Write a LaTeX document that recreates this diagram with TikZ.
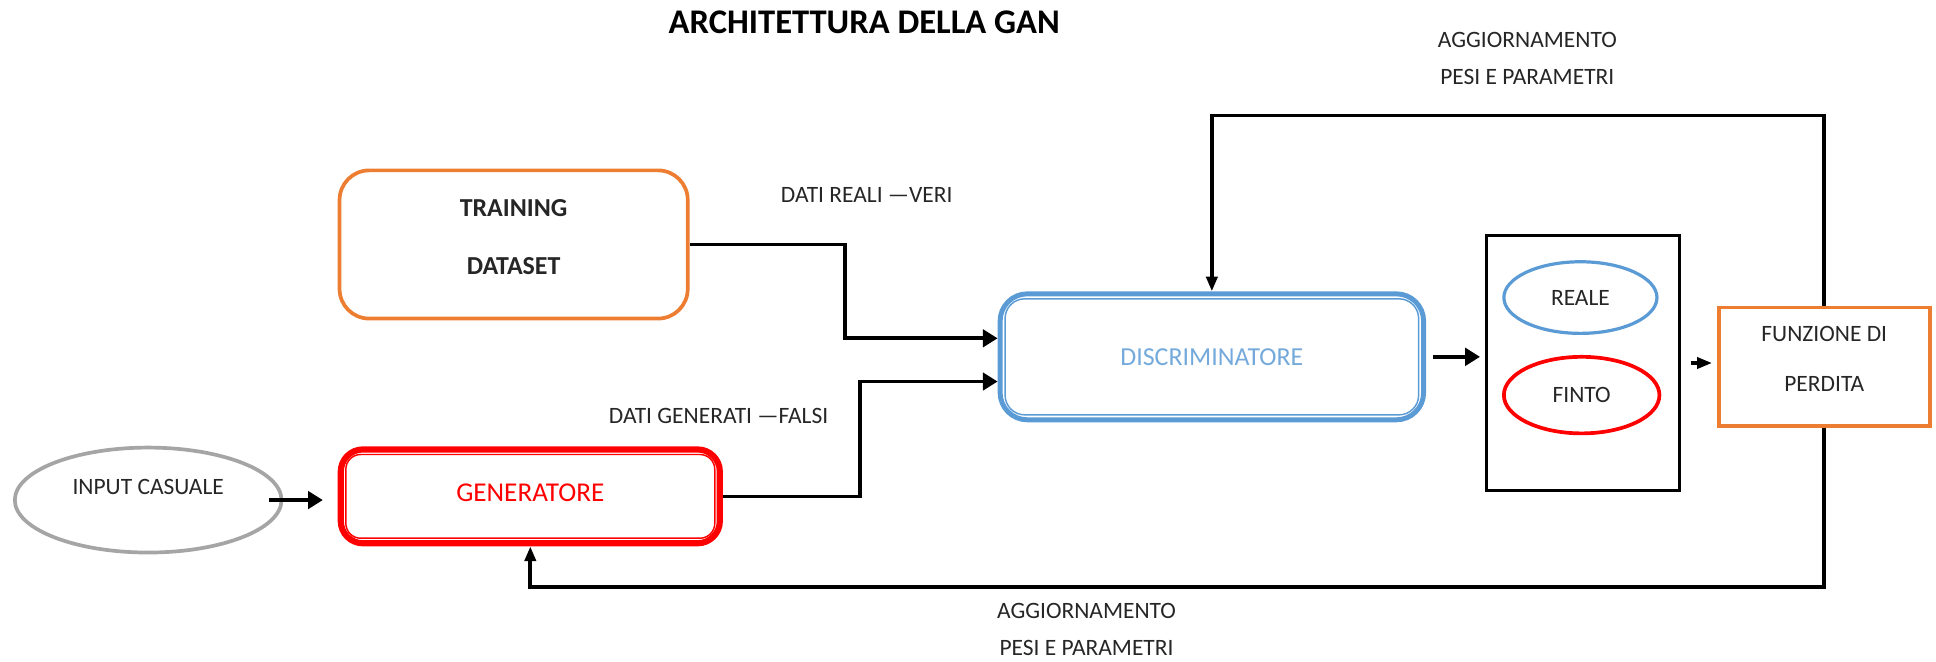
\documentclass[tikz,border=0pt]{standalone}
\usepackage{fontspec}
\setmainfont{Carlito}
\usetikzlibrary{arrows.meta,shapes.geometric}
\definecolor{ganorange}{HTML}{ED7D31}
\definecolor{ganblue}{HTML}{5B9BD5}
\definecolor{gangray}{HTML}{A5A5A5}
\definecolor{gantext}{HTML}{262626}

\begin{document}
\begin{tikzpicture}[x=0.5pt,y=-0.5pt,
    lbl/.style={font=\fontsize{9.5}{15}\selectfont, text=gantext, align=center},
    arr/.style={line width=1.5pt, -{Triangle[length=6pt,width=7pt]}},
    thinarr/.style={line width=1.5pt, -{Triangle[length=6pt,width=4.5pt]}},
  ]
  \useasboundingbox (0,0) rectangle (1568,536);
  \node[font=\bfseries\fontsize{14}{16}\selectfont] (title) at (700,18) {ARCHITETTURA DELLA GAN}; % title

  % blocks
  \node[draw=ganorange, line width=1.5pt, rounded corners=12pt, minimum width=141pt, minimum height=60pt,
        label={[align=center, font=\bfseries\fontsize{10.5}{23.5}\selectfont, text=gantext, yshift=3pt]center:TRAINING\\DATASET}] (train) at (416,198) {};
  \node[draw=ganblue, line width=2pt, rounded corners=11pt, minimum width=171.5pt, minimum height=51pt,
        font=\fontsize{10.5}{12}\selectfont, text=ganblue!85] (disc) at (981.5,289) {DISCRIMINATORE};
  \draw[ganblue, line width=0.6pt, rounded corners=8pt] ([shift={(3pt,-3pt)}]disc.north west) rectangle ([shift={(-3pt,3pt)}]disc.south east); % inner border
  \node[draw=red, line width=2.5pt, rounded corners=9pt, minimum width=153.5pt, minimum height=38pt,
        font=\fontsize{11}{12}\selectfont, text=red] (gen) at (429.5,402) {\raisebox{3pt}{GENERATORE}};
  \draw[red, line width=0.6pt, rounded corners=6pt] ([shift={(3.3pt,-3.3pt)}]gen.north west) rectangle ([shift={(-3.3pt,3.3pt)}]gen.south east); % inner border
  \node[draw=gangray, line width=1.5pt, ellipse, minimum width=108pt, minimum height=42.5pt,
        label={[lbl, yshift=5.5pt]center:INPUT CASUALE}] (rand) at (120,405) {};
  \node[draw, line width=1.3pt, minimum width=78pt, minimum height=103pt] (out) at (1282,294) {};
  \node[draw=ganblue, line width=1.3pt, ellipse, minimum width=62pt, minimum height=29pt, lbl] (real) at (1280,241) {REALE};
  \node[draw=red, line width=1.5pt, ellipse, minimum width=63pt, minimum height=31pt, lbl] (fake) at (1281,320) {FINTO};
  \node[draw=ganorange, line width=1.5pt, minimum width=85.5pt, minimum height=48pt,
        label={[lbl, font=\fontsize{9.5}{20.5}\selectfont, yshift=3.2pt]center:FUNZIONE DI\\PERDITA}] (loss) at (1477.5,297) {};

  % data flow
  \draw[arr] (train.east) -- ++(126,0) |- ([yshift=7.5pt]disc.west);
  \node[lbl] (realtxt) at (702,158) {DATI REALI —VERI};
  \draw[arr] (gen.east) -- ++(111,0) |- ([yshift=-10pt]disc.west);
  \node[lbl] (faketxt) at (582,337) {DATI GENERATI —FALSI};
  \draw[arr, shorten <=-6pt, shorten >=6pt] (rand.east) -- (rand.east -| gen.west); % noise in
  \draw[arr, shorten <=3pt, shorten >=2pt] (disc.east) -- (disc.east -| out.west); % to output
  \draw[thinarr, line width=1.3pt, shorten <=4pt, shorten >=2pt] (out.east) -- (out.east -| loss.west); % to loss

  % feedback
  \draw[thinarr] (loss.north) -- ++(0,-154) -| (disc.north);
  \node[lbl] (updtop) at (1237,47) {AGGIORNAMENTO\\PESI E PARAMETRI};
  \draw[thinarr] (loss.south) -- ++(0,129) -| (gen.south);
  \node[lbl] (updbot) at (880,510) {AGGIORNAMENTO\\PESI E PARAMETRI};
\end{tikzpicture}
\end{document}
